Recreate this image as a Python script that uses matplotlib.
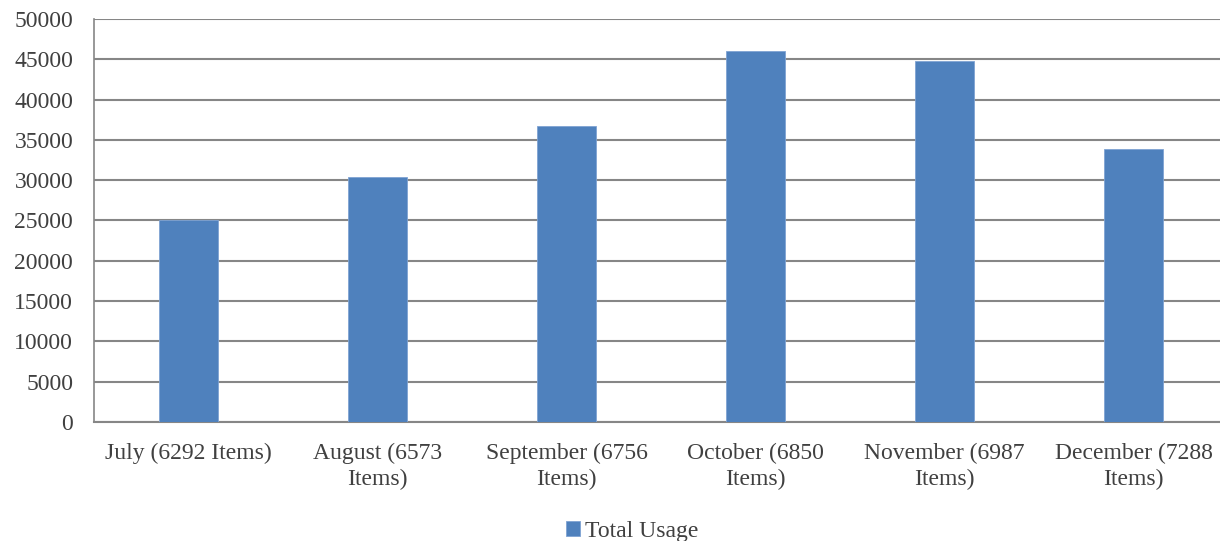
import matplotlib.pyplot as plt
import numpy as np

months = ["July (6292 Items)", "August (6573\nItems)", "September (6756\nItems)",
          "October (6850\nItems)", "November (6987\nItems)", "December (7288\nItems)"]
usage = [25000, 30400, 36700, 46000, 44800, 33850]
y_ticks = list(range(0, 50001, 5000))

C_BAR = '#4F81BD'
C_GRID = '#868686'
C_TEXT = '#404040'

plt.rcParams['font.family'] = ['Liberation Serif', 'DejaVu Serif']

fig = plt.figure(figsize=(12.2, 5.41), dpi=100)
ax = fig.add_axes([94 / 1220, 119 / 541, 1134 / 1220, 403 / 541])

x = np.arange(len(months))
ax.bar(x, usage, width=0.31, color=C_BAR, edgecolor='#7fa3d3', linewidth=0.6,
       label='Total Usage', zorder=3)

ax.set_xlim(-0.5, len(months) - 0.5)
ax.set_ylim(0, 50000)
ax.set_yticks(y_ticks)
ax.set_yticklabels([str(t) for t in y_ticks])
ax.set_xticks(x)
ax.set_xticklabels(months, linespacing=1.32)
ax.yaxis.grid(True, color=C_GRID, linewidth=1.5, zorder=0)
ax.tick_params(axis='both', length=0, labelsize=17, colors=C_TEXT)
ax.tick_params(axis='x', pad=15)
ax.tick_params(axis='y', pad=15)

for s in ['top', 'right']:
    ax.spines[s].set_visible(False)
ax.spines['left'].set_color(C_GRID)
ax.spines['left'].set_linewidth(1.2)
ax.spines['bottom'].set_color(C_GRID)
ax.spines['bottom'].set_linewidth(1.5)

fig.legend(loc='center', bbox_to_anchor=(632 / 1220, 10 / 541), frameon=False,
           fontsize=17, handlelength=0.6, handleheight=0.6, handletextpad=0.2,
           labelcolor=C_TEXT, borderpad=0)

fig.savefig('out.png', dpi=100)
